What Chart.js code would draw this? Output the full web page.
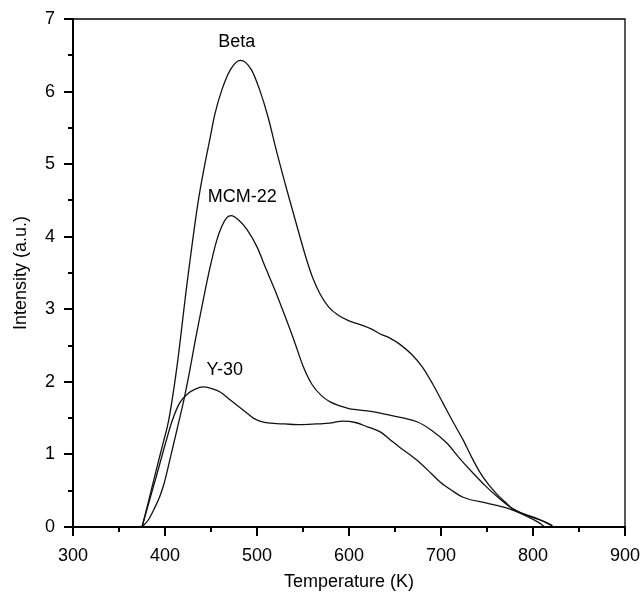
<!DOCTYPE html>
<html>
<head>
<meta charset="utf-8">
<script src="https://cdn.jsdelivr.net/npm/chart.js@4.4.1/dist/chart.umd.min.js"></script>
<style>
html,body{margin:0;padding:0;background:#fff;}
#wrap{width:642px;height:596px;}
</style>
</head>
<body>
<div id="wrap"><canvas id="c" width="642" height="596"></canvas></div>
<script>
// ---- data ----
const betaT = [375,382,390,398,404,413,424,436,443,449,454,462,471,482,494,503,512,521,533,544,554,561,569,578,588,600,612,624,634,645,655,668,680,691,702,713,724,733,742,752,761,770,778,790,804,813,821];
const betaI = [0,0.35,0.76,1.16,1.47,2.21,3.36,4.48,4.98,5.36,5.68,6.03,6.30,6.43,6.30,6.02,5.65,5.19,4.62,4.12,3.68,3.42,3.20,3.03,2.92,2.84,2.79,2.73,2.66,2.60,2.52,2.38,2.20,1.97,1.71,1.45,1.20,0.97,0.76,0.58,0.45,0.34,0.25,0.18,0.12,0.07,0.02];

const mcmT = [375,382,389,394,399,405,413,421,427,433,440,449,456,462,467,472,480,489,500,510,520,530,540,550,560,570,580,590,600,620,634,648,660,674,690,706,720,735,748,761,778,793,807,821];
const mcmI = [0,0.10,0.27,0.41,0.60,0.91,1.34,1.78,2.16,2.58,3.03,3.58,3.94,4.15,4.26,4.29,4.23,4.10,3.86,3.55,3.25,2.92,2.58,2.22,1.96,1.81,1.72,1.67,1.63,1.60,1.57,1.53,1.50,1.45,1.33,1.16,0.95,0.74,0.57,0.42,0.25,0.16,0.10,0.02];

const y30T = [375,383,390,400,408,416,425,433,441,450,460,471,480,489,496,503,514,530,547,565,579,593,607,620,634,645,655,674,690,699,711,724,750,772,793,805,813];
const y30I = [0,0.36,0.67,1.13,1.47,1.71,1.84,1.90,1.93,1.91,1.86,1.75,1.66,1.57,1.50,1.46,1.43,1.42,1.41,1.42,1.43,1.46,1.44,1.38,1.31,1.20,1.10,0.92,0.73,0.62,0.51,0.41,0.33,0.26,0.15,0.07,0.0];

const seriesNames = ['Beta','MCM-22','Y-30'];
const labelT = [478,484,465];
const labelI = [6.68,4.55,2.16];

const xTicks = [300,400,500,600,700,800,900];
const yTicks = [0,1,2,3,4,5,6,7];

// ---- build ----
const pts = (T, I) => T.map((t, i) => ({x: t, y: I[i]}));
const FONT = '"Liberation Sans", Arial, sans-serif';

const lineDs = (label, T, I) => ({
  label, data: pts(T, I), borderColor: '#111', borderWidth: 1.3,
  pointRadius: 0, cubicInterpolationMode: 'monotone', fill: false
});

const decor = {
  id: 'decor',
  afterDraw(chart) {
    const {ctx, chartArea: a, scales: {x, y}} = chart;
    ctx.save();
    ctx.strokeStyle = '#000';
    // top/right frame
    ctx.lineWidth = 1.3;
    ctx.beginPath();
    ctx.moveTo(a.left, a.top); ctx.lineTo(a.right, a.top); ctx.lineTo(a.right, a.bottom);
    ctx.stroke();
    // x ticks (major + minor)
    ctx.lineWidth = 2;
    for (let i = 0; i < xTicks.length; i++) {
      const px = Math.round(x.getPixelForValue(xTicks[i]));
      ctx.beginPath(); ctx.moveTo(px, a.bottom); ctx.lineTo(px, a.bottom + 9); ctx.stroke();
      if (i < xTicks.length - 1) {
        const pm = Math.round(x.getPixelForValue((xTicks[i] + xTicks[i+1]) / 2));
        ctx.beginPath(); ctx.moveTo(pm, a.bottom); ctx.lineTo(pm, a.bottom + 5); ctx.stroke();
      }
    }
    for (let i = 0; i < yTicks.length; i++) {
      const py = Math.round(y.getPixelForValue(yTicks[i]));
      ctx.beginPath(); ctx.moveTo(a.left, py); ctx.lineTo(a.left - 9, py); ctx.stroke();
      if (i < yTicks.length - 1) {
        const pm = Math.round(y.getPixelForValue((yTicks[i] + yTicks[i+1]) / 2));
        ctx.beginPath(); ctx.moveTo(a.left, pm); ctx.lineTo(a.left - 5, pm); ctx.stroke();
      }
    }
    // series labels
    ctx.fillStyle = '#000';
    ctx.font = '18px ' + FONT;
    ctx.textAlign = 'center';
    ctx.textBaseline = 'middle';
    for (let i = 0; i < seriesNames.length; i++) {
      ctx.fillText(seriesNames[i], x.getPixelForValue(labelT[i]), y.getPixelForValue(labelI[i]));
    }
    ctx.restore();
  }
};

new Chart(document.getElementById('c'), {
  type: 'line',
  data: {
    datasets: [
      lineDs(seriesNames[0], betaT, betaI),
      lineDs(seriesNames[1], mcmT, mcmI),
      lineDs(seriesNames[2], y30T, y30I)
    ]
  },
  options: {
    responsive: false,
    animation: false,
    layout: {padding: {top: 19, right: 17, left: 0, bottom: 0}},
    plugins: {legend: {display: false}, tooltip: {enabled: false}},
    scales: {
      x: {
        type: 'linear', min: 300, max: 900,
        afterBuildTicks: s => { s.ticks = xTicks.map(v => ({value: v})); },
        afterFit: s => { s.height = 69; s.paddingLeft = 0; s.paddingRight = 0; },
        grid: {display: false, drawTicks: false},
        border: {display: true, color: '#000', width: 2},
        ticks: {color: '#000', font: {family: FONT, size: 18}, padding: 18, maxRotation: 0, autoSkip: false},
        title: {display: true, text: 'Temperature (K)', color: '#000', font: {family: FONT, size: 18}, padding: {top: 0, bottom: 3}}
      },
      y: {
        type: 'linear', min: 0, max: 7,
        afterBuildTicks: s => { s.ticks = yTicks.map(v => ({value: v})); },
        afterFit: s => { s.width = 73; s.paddingTop = 0; s.paddingBottom = 0; },
        grid: {display: false, drawTicks: false},
        border: {display: true, color: '#000', width: 2},
        ticks: {color: '#000', font: {family: FONT, size: 18}, padding: 18},
        title: {display: true, text: 'Intensity (a.u.)', color: '#000', font: {family: FONT, size: 18}, padding: {top: 10, bottom: 0}}
      }
    }
  },
  plugins: [decor]
});
</script>
</body>
</html>
